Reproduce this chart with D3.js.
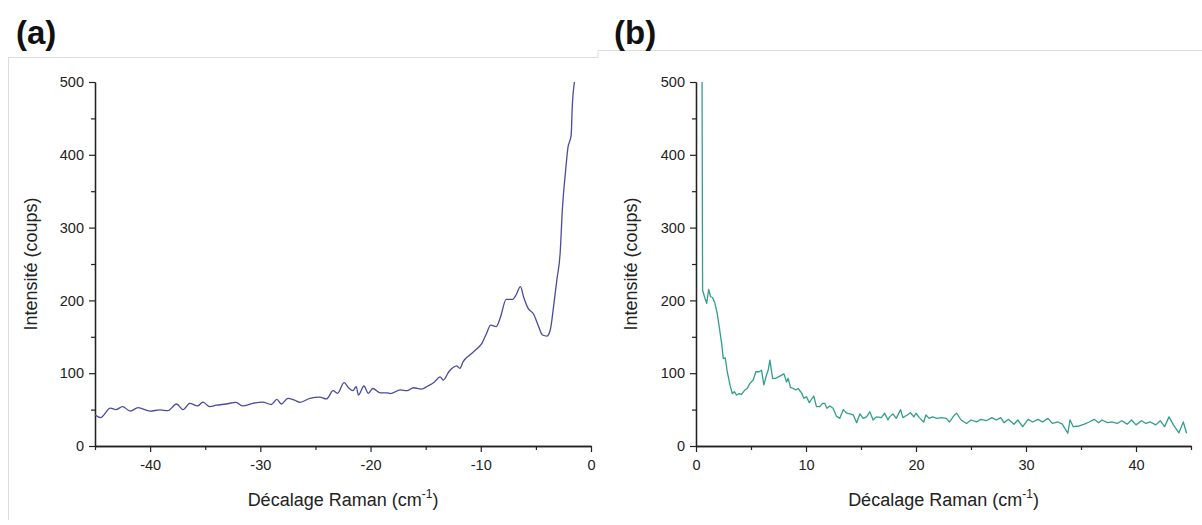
<!DOCTYPE html>
<html><head><meta charset="utf-8">
<script src="https://cdn.jsdelivr.net/npm/d3@7"></script>
<style>
body{margin:0;background:#fff;}
svg{display:block;font-family:"Liberation Sans",Arial,sans-serif;}
</style></head>
<body><svg id="c" width="1202" height="525"></svg>
<script>
// Panel (a): anti-Stokes side
const shiftA = [-45,-44.5,-43.6,-43.1,-42.5,-41.8,-41.1,-40.0,-39.1,-38.4,-37.6,-37.0,-36.4,-35.7,-35.2,-34.6,-34.0,-33.1,-32.2,-31.6,-30.7,-29.8,-29.0,-28.5,-28.1,-27.5,-26.9,-26.4,-25.5,-24.6,-24.0,-23.4,-23.0,-22.4,-22.0,-21.6,-21.3,-21.1,-20.6,-20.2,-19.8,-19.1,-18.5,-18.2,-17.3,-16.7,-16.1,-15.4,-14.8,-14.2,-13.7,-13.4,-12.9,-12.6,-12.2,-11.9,-11.6,-11.0,-10.4,-9.9,-9.5,-9.1,-8.6,-8.2,-7.7,-7.1,-6.8,-6.4,-6.1,-5.7,-5.2,-4.8,-4.4,-4.0,-3.7,-3.4,-3.1,-2.8,-2.6,-2.3,-2.1,-1.8,-1.7,-1.5];
const intensityA = [43,39,52,50,54,48,52.6,48,49.5,48.5,57.7,50,58.6,55,60.4,54,56,57.7,60,55,58.6,60.4,57,64,57.7,65.5,63,60,65.5,67,64.6,76,72.4,87,80,76,81.5,70,82.4,72.4,79,73,73,72,77,76,80,78,82.4,88,95,90.6,102,106.7,110,106.7,115.8,125,132.8,141,153.8,166,164,177.6,201.5,201.5,207.4,218.8,204,189,181,166,152.5,151,159,191,228,264.7,324,379,409,427,466,500];
// Panel (b): Stokes side
const shiftB = [0.55,0.6,0.79,0.97,1.15,1.33,1.5,1.72,1.93,2.11,2.33,2.48,2.66,2.84,3.09,3.3,3.48,3.69,3.93,4.14,4.45,4.66,4.9,5.2,5.44,5.74,5.96,6.17,6.41,6.56,6.72,6.96,7.26,7.62,8.0,8.23,8.38,8.59,8.83,9.07,9.29,9.59,9.8,10.05,10.3,10.7,10.95,11.25,11.5,11.7,11.9,12.16,12.46,12.77,13.07,13.4,13.7,14.0,14.3,14.6,14.9,15.2,15.5,15.8,16.1,16.4,16.85,17.15,17.45,17.6,17.9,18.2,18.6,18.8,19.2,19.5,19.8,20.0,20.3,20.7,20.9,21.2,21.5,21.9,22.3,22.75,23.05,23.5,23.7,24.1,24.6,25.0,25.5,25.9,26.4,26.9,27.3,27.7,28.0,28.4,28.9,29.25,29.7,30.2,30.6,31.1,31.5,32.0,32.4,32.9,33.3,33.8,34.0,34.3,34.85,35.3,35.75,36.2,36.6,36.9,37.4,37.8,38.3,38.7,39.2,39.6,40.0,40.5,40.9,41.3,41.8,42.2,42.6,43.0,43.4,43.9,44.3,44.6];
const intensityB = [500,214,204,196,215,205,204,196,182,164,141,120,121,102,84,72,74.6,70,72,71,77,79,86,90.6,102,102,104,84,97.5,104,118,93,93,96,99,88,93,80.6,79,77,79,73,65.5,67.7,59.5,68.7,54,54,58.6,58.6,51.8,55,51.8,41,38,50,45,44,42.6,32,44,38,40,47,35.7,40,39,45,35.7,40,44,38,50,39,42.6,45.7,40,45,39,33,42.6,38,40,38,39,38,33,42.6,45,35.7,31,35.7,33,36.6,34.7,39,35.7,39,32,36.6,29.8,35.7,26.5,36.6,33,36.6,33,38,31,33,30,17.5,35.7,26.5,27.5,30,33,36.6,32,35.7,32,33,31,34.7,30,35.7,29,34.7,31,33,29,34.7,26.5,40,29,18,33,17.5];
const yMajor = [0,100,200,300,400,500];
const yMinor = [50,150,250,350,450];
const xMajorA = [-40,-30,-20,-10,0];
const xMinorA = [-45,-35,-25,-15,-5];
const xMajorB = [0,10,20,30,40];
const xMinorB = [5,15,25,35,45];

const svg = d3.select("#c");
svg.append("rect").attr("width",1202).attr("height",525).attr("fill","#fff");

// faint panel frames
svg.append("path").attr("d","M8.5,520 V57.5 H598").attr("fill","none").attr("stroke","#dcdcdc").attr("stroke-width",1);
svg.append("path").attr("d","M598,57.5 V50.5 H1202").attr("fill","none").attr("stroke","#dcdcdc").attr("stroke-width",1);

function panel(opts){
  const x = d3.scaleLinear().domain(opts.xdom).range([opts.x0, opts.x1]);
  const y = d3.scaleLinear().domain([0,500]).range([446, 82]);
  const g = svg.append("g");
  const styleAxis = sel => {
    sel.attr("font-size",null).attr("font-family",null);
    sel.select(".domain").attr("stroke","#222").attr("stroke-width",1.3);
    sel.selectAll(".tick line").attr("stroke","#222").attr("stroke-width",1.2);
    sel.selectAll("text").attr("fill","#222").style("font-size","14.5px").style("font-family","'Liberation Sans',Arial,sans-serif");
  };
  const fmt = d => String(d);
  // x axis
  g.append("g").attr("transform",`translate(0,446)`)
    .call(d3.axisBottom(x).tickValues(opts.xMajor).tickSize(6).tickSizeOuter(0).tickPadding(8).tickFormat(fmt))
    .call(styleAxis);
  g.append("g").attr("transform",`translate(0,446)`)
    .call(d3.axisBottom(x).tickValues(opts.xMinor).tickSize(4).tickSizeOuter(0).tickFormat(""))
    .call(styleAxis);
  // y axis
  g.append("g").attr("transform",`translate(${opts.x0},0)`)
    .call(d3.axisLeft(y).tickValues(yMajor).tickSize(6).tickSizeOuter(0).tickPadding(5).tickFormat(fmt))
    .call(styleAxis);
  g.append("g").attr("transform",`translate(${opts.x0},0)`)
    .call(d3.axisLeft(y).tickValues(yMinor).tickSize(4).tickSizeOuter(0).tickFormat(""))
    .call(styleAxis);
  // line
  const line = d3.line().x((d,i)=>x(opts.xs[i])).y(d=>y(d)).curve(opts.curve);
  g.append("path").datum(opts.ys).attr("d",line).attr("fill","none")
    .attr("stroke",opts.color).attr("stroke-width",1.3).attr("stroke-linejoin","round");
  // titles
  g.append("text").attr("transform",`translate(${opts.ytx},264) rotate(-90)`)
    .attr("text-anchor","middle").style("font-size","18px").attr("fill","#222").text("Intensité (coups)");
  const xt = g.append("text").attr("x",(opts.x0+opts.x1)/2).attr("y",506)
    .attr("text-anchor","middle").style("font-size","18px").attr("fill","#222");
  xt.append("tspan").text("Décalage Raman (cm");
  xt.append("tspan").attr("dy",-8).style("font-size","12px").text("-1");
  xt.append("tspan").attr("dy",8).text(")");
  svg.append("text").attr("x",opts.lx).attr("y",44).style("font-size","33px").attr("font-weight","bold")
    .attr("fill","#111").text(opts.label);
}

panel({xdom:[-45,0], x0:95, x1:591, xMajor:xMajorA, xMinor:xMinorA, xs:shiftA, ys:intensityA, color:"#4a4a9e", ytx:37, lx:16, label:"(a)", curve:d3.curveMonotoneX});
panel({xdom:[0,45], x0:696, x1:1191, xMajor:xMajorB, xMinor:xMinorB, xs:shiftB, ys:intensityB, color:"#2f9f8c", ytx:637, lx:614, label:"(b)", curve:d3.curveLinear});
</script></body></html>
